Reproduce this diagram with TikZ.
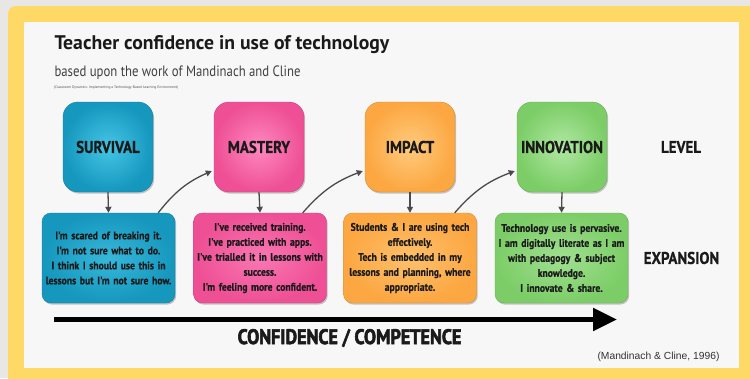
\documentclass[tikz,border=0pt]{standalone}
\usepackage{fontspec}
\setmainfont{PT Sans}
\newfontfamily\cb[FakeStretch=0.88]{PT Sans}
\newfontfamily\cbb[FakeStretch=0.88,FakeBold=0.6]{PT Sans}
\newfontfamily\subfnt[FakeStretch=0.85]{PT Sans}
\newfontfamily\hv[FakeStretch=0.86,FakeBold=2.6]{PT Sans}
\newfontfamily\arialf{Liberation Sans}
\usetikzlibrary{shadows,arrows.meta,calc}
\definecolor{bgout}{HTML}{E9E7E5}
\definecolor{frame}{HTML}{FFD966}
\definecolor{panel}{HTML}{F7F7F7}
\definecolor{tealO}{HTML}{1597BE}
\definecolor{tealI}{HTML}{45C6E6}
\definecolor{pinkO}{HTML}{EE4F95}
\definecolor{pinkI}{HTML}{FF88C0}
\definecolor{orO}{HTML}{FCA741}
\definecolor{orI}{HTML}{FFCB7E}
\definecolor{grO}{HTML}{7CCD67}
\definecolor{grI}{HTML}{B0E8A2}
\definecolor{txt}{HTML}{1A1A1A}
\definecolor{arr}{HTML}{4A4A4A}
\tikzset{
  levelbox/.style={minimum width=90pt, minimum height=90pt, rounded corners=15pt,
    inner color=#1I, outer color=#1O, draw=#1O!85!black, line width=0.4pt,
    drop shadow={shadow xshift=1.2pt, shadow yshift=-1.6pt, opacity=0.45},
    font=\cbb\bfseries\fontsize{17}{20}\selectfont, text=txt},
  expbox/.style={minimum width=133pt, minimum height=90pt, rounded corners=9pt,
    inner color=#1I!70!#1O, outer color=#1O, draw=#1O!85!black, line width=0.4pt,
    drop shadow={shadow xshift=1.2pt, shadow yshift=-1.6pt, opacity=0.45},
    text width=131pt, align=center, inner sep=1pt,
    font=\cbb\bfseries\fontsize{11}{15}\selectfont, text=txt},
  downarr/.style={draw=arr, line width=1.3pt, -{Triangle[length=6pt,width=6pt]}},
  diagarr/.style={draw=arr, line width=1.3pt, -{Triangle[length=6pt,width=6pt]}, bend left=14},
  sidelabel/.style={font=\cbb\bfseries\fontsize{17}{20}\selectfont, text=txt},
}
\begin{document}
\begin{tikzpicture}[x=1pt,y=-1pt]
\useasboundingbox (0,0) rectangle (750,378);
\fill[bgout] (0,0) rectangle (750,378);
\fill[frame, rounded corners=8pt] (8,6) rectangle (770,400);
\fill[panel] (24,22) rectangle (739,368);

\node[anchor=base west, font=\bfseries\fontsize{19.7}{24}\selectfont, text=txt] (title) at (51,49) {Teacher confidence in use of technology};
\node[anchor=base west, font=\subfnt\fontsize{15}{18}\selectfont, text=black!75] (sub) at (51,76) {based upon the work of Mandinach and Cline};
\node[anchor=west, inner sep=0pt, font=\fontsize{3.6}{4}\selectfont, text=black!70] (book) at (54,88) {(Classroom Dynamics: Implementing a Technology-Based Learning Environment)};

\node[levelbox=teal] (t1) at (108,147) {SURVIVAL};
\node[levelbox=pink] (t2) at (259,147) {MASTERY};
\node[levelbox=or] (t3) at (410,147) {IMPACT};
\node[levelbox=gr] (t4) at (562,147) {INNOVATION};

\node[expbox=teal] (b1) at (108.5,258) {I'm scared of breaking it.\\I'm not sure what to do.\\I think I should use this in\\lessons but I'm not sure how.};
\node[expbox=pink] (b2) at (260,258) {I've received training.\\I've practiced with apps.\\I've trialled it in lessons with\\success.\\I'm feeling more confident.};
\node[expbox=or] (b3) at (410,258) {Students \& I are using tech\\effectively.\\Tech is embedded in my\\lessons and planning, where\\appropriate.};
\node[expbox=gr] (b4) at (561.5,258) {Technology use is pervasive.\\I am digitally literate as I am\\with pedagogy \& subject\\knowledge.\\I innovate \& share.};

\draw[downarr] (t1.south) -- (b1.north);
\draw[downarr] (t2.south) -- (b2.north);
\draw[downarr] (t3.south) -- (b3.north);
\draw[downarr] (t4.south) -- (b4.north);

\draw[diagarr] ([xshift=-17pt]b1.north east) to ([xshift=-2pt,yshift=-24pt]t2.west);
\draw[diagarr] ([xshift=-24pt]b2.north east) to ([xshift=-2pt,yshift=-24pt]t3.west);
\draw[diagarr] ([xshift=-22pt]b3.north east) to ([xshift=-2pt,yshift=-24pt]t4.west);

\node[sidelabel] (lev) at (681,147) {LEVEL};
\node[sidelabel] (exp) at (681.5,258) {EXPANSION};

\coordinate (a0) at (54,319.5);
\coordinate (a1) at (617,319.5);
\draw[line width=5pt, -{Triangle[length=24pt,width=22pt]}] (a0) -- (a1);
\node[font=\hv\bfseries\fontsize{21}{24}\selectfont, text=txt] (conf) at (349.5,338) {CONFIDENCE / COMPETENCE};
\node[anchor=east, font=\arialf\fontsize{10.3}{12}\selectfont, text=black!80] (cite) at (723,357) {(Mandinach \& Cline, 1996)};
\end{tikzpicture}
\end{document}
